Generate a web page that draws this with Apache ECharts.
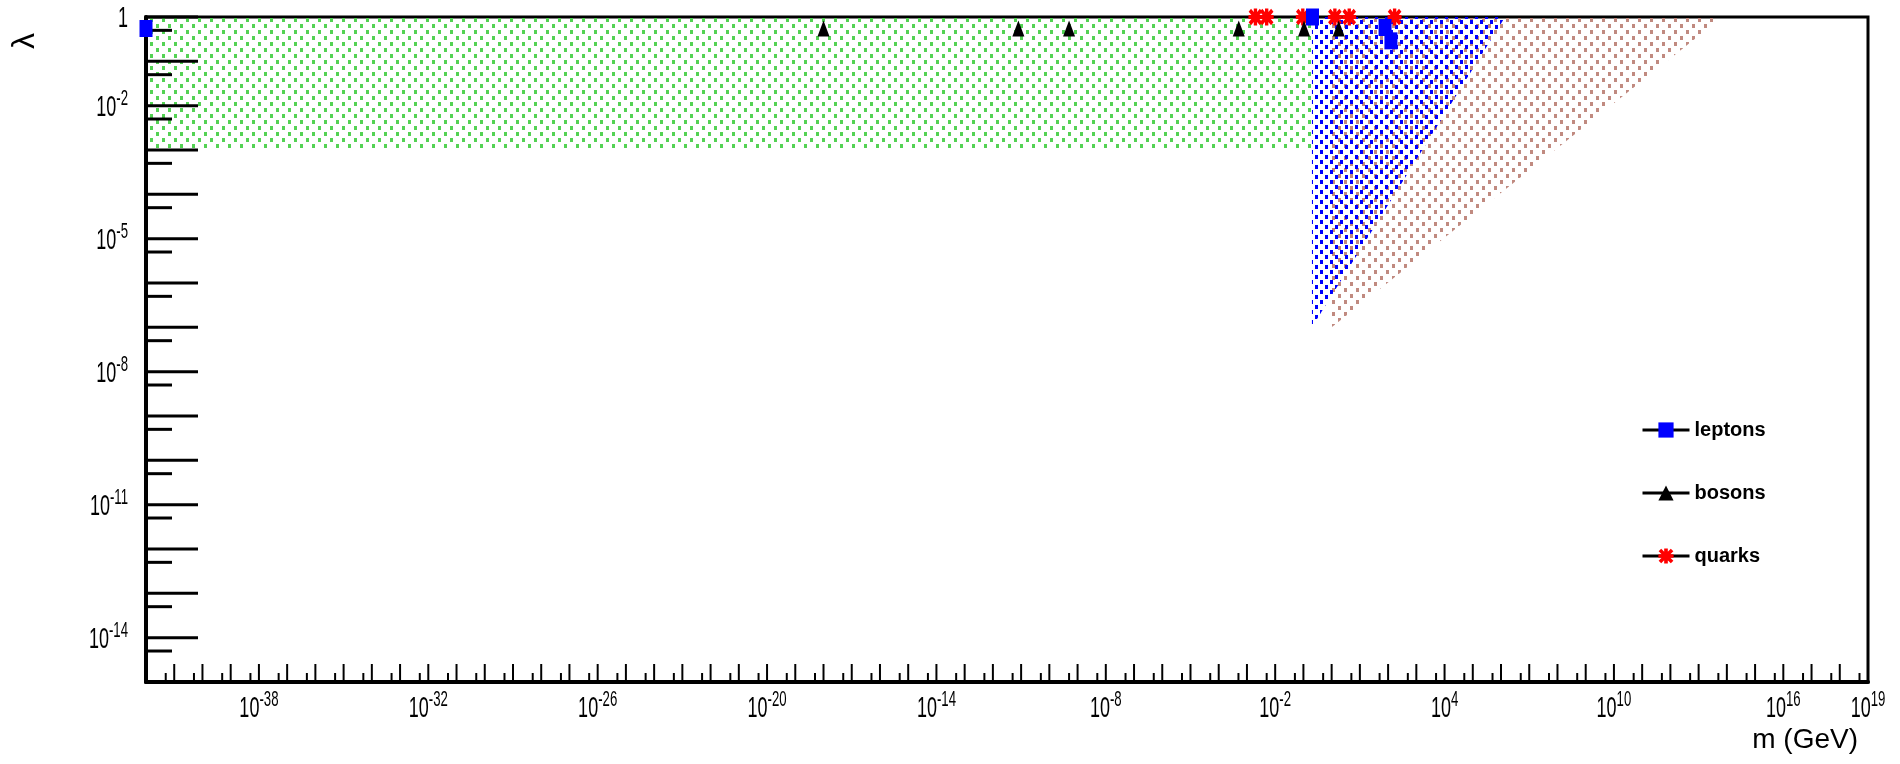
<!DOCTYPE html>
<html>
<head>
<meta charset="utf-8">
<title>lambda vs m</title>
<script src="https://cdn.jsdelivr.net/npm/echarts@6.0.0/dist/echarts.min.js"></script>
<style>
  html, body { margin: 0; padding: 0; background: #fff; }
  #chart { width: 1900px; height: 764px; }
</style>
</head>
<body>
<div id="chart"></div>
<script>
// particle masses (GeV) and couplings
const leptonM = [1e-42, 0.21, 78, 126];
const leptonL = [0.55, 1, 0.58, 0.29];
const bosonM = [1e-18, 8e-12, 5e-10, 5.11e-4, 0.1057, 1.777];
const bosonL = [0.55, 0.55, 0.55, 0.55, 0.55, 0.55];
const quarkM = [2e-3, 5e-3, 0.095, 1.3, 4.2, 170];
const quarkL = [1, 1, 1, 1, 1, 1];

// shaded regions, polygon corners
const greenM = [1e-42, 0.2, 0.2, 1e-42];
const greenL = [1e-3, 1e-3, 1, 1];
const blueM = [0.2, 0.2, 1.4e6];
const blueL = [1e-7, 1, 1];
const brownM = [1, 1, 7e13];
const brownL = [1e-7, 1, 1];

// labelled powers of ten
const xLabelExp = [-38, -32, -26, -20, -14, -8, -2, 4, 10, 16, 19];
const yLabelExp = [0, -2, -5, -8, -11, -14];

const X_MIN = 1e-42, X_MAX = 1e19, Y_MIN = 1e-15, Y_MAX = 1;
const FONT = '"Liberation Sans", Arial, Helvetica, sans-serif';

// tick positions: a long tick every decade, a short one at 5 x 10^k
const xMajor = [], xMinor = [], yMajor = [], yMinor = [];
for (let k = -42; k <= 19; k++) {
  xMajor.push(Math.pow(10, k));
  if (k > -42) xMinor.push(5 * Math.pow(10, k - 1));
}
for (let k = -15; k <= 0; k++) {
  yMajor.push(Math.pow(10, k));
  if (k > -15) yMinor.push(5 * Math.pow(10, k - 1));
}

// dotted fill patterns
function makePattern(w, h, color, dots) {
  const c = document.createElement('canvas');
  c.width = w; c.height = h;
  const ctx = c.getContext('2d');
  ctx.fillStyle = color;
  dots.forEach(d => ctx.fillRect(d[0], d[1], d[2], d[3]));
  return { image: c, repeat: 'repeat' };
}
const greenFill = makePattern(12, 12, 'rgb(84,210,84)', [[0, 0, 3, 4], [6, 6, 3, 4]]);
const brownFill = makePattern(12, 12, 'rgb(192,138,128)', [[0, 0, 3, 4], [6, 6, 3, 4]]);
const blueFill = makePattern(10, 10, 'rgb(0,0,255)', [[0, 0, 3, 4], [5, 5, 3, 4]]);

function areaSeries(ms, ls, fill) {
  return {
    type: 'custom', z: 1, silent: true,
    data: ms.map((m, i) => [m, ls[i]]),
    renderItem(params, api) {
      if (params.dataIndex !== 0) return null;
      const pts = ms.map((m, i) => api.coord([m, ls[i]]));
      return { type: 'polygon', shape: { points: pts }, style: { fill: fill } };
    }
  };
}

function tickSeries(vals, isX, len, width) {
  return {
    type: 'custom', z: 6, silent: true,
    data: vals.map(v => isX ? [v, Y_MIN] : [X_MIN, v]),
    renderItem(params, api) {
      const p = api.coord([api.value(0), api.value(1)]);
      const shape = isX
        ? { x1: p[0], y1: p[1], x2: p[0], y2: p[1] - len }
        : { x1: p[0], y1: p[1], x2: p[0] + len, y2: p[1] };
      return { type: 'line', shape: shape, style: { stroke: '#000', lineWidth: width } };
    }
  };
}

const RICH = {
  b: { fontSize: 30, lineHeight: 40, fontFamily: FONT },
  s: { fontSize: 22, lineHeight: 22, fontFamily: FONT, verticalAlign: 'top' }
};
function powText(e) {
  if (e === 0) return '{b|1}';
  return '{b|10}{s|' + (e < 0 ? '-' : '') + Math.abs(e) + '}';
}

function labelSeries(exps, isX) {
  return {
    type: 'custom', z: 6, silent: true,
    data: exps.map(e => isX ? [Math.pow(10, e), Y_MIN] : [X_MIN, Math.pow(10, e)]),
    renderItem(params, api) {
      const p = api.coord([api.value(0), api.value(1)]);
      const e = exps[params.dataIndex];
      return {
        type: 'text',
        x: isX ? p[0] : p[0] - 18,
        y: isX ? p[1] + 27 : p[1] + 2,
        scaleX: 0.6,
        style: {
          text: powText(e), rich: RICH, fill: '#000',
          align: isX ? 'center' : 'right', verticalAlign: 'middle'
        }
      };
    }
  };
}

function markerSeries(name, ms, ls, symbol, size, color) {
  return {
    name: name, type: 'line', z: 10, clip: false, silent: true,
    data: ms.map((m, i) => [m, ls[i]]),
    symbol: symbol, symbolSize: size,
    lineStyle: { opacity: 0 },
    itemStyle: { color: color, borderWidth: 0 }
  };
}

const ASTERISK = 'path://M38 0L62 0L62 100L38 100Z M0 38L100 38L100 62L0 62Z ' +
  'M1.5 18.5L18.5 1.5L98.5 81.5L81.5 98.5Z M81.5 1.5L98.5 18.5L18.5 98.5L1.5 81.5Z';

const chart = echarts.init(document.getElementById('chart'), null, { renderer: 'canvas' });
chart.setOption({
  animation: false,
  backgroundColor: '#fff',
  grid: { left: 146, right: 32, top: 17, bottom: 82, show: true, borderColor: '#000', borderWidth: 3, backgroundColor: 'transparent' },
  xAxis: {
    type: 'log', logBase: 10, min: X_MIN, max: X_MAX, z: 5,
    axisLine: { show: true, onZero: false, lineStyle: { color: '#000', width: 4 } },
    axisTick: { show: false }, axisLabel: { show: false }, splitLine: { show: false }
  },
  yAxis: {
    type: 'log', logBase: 10, min: Y_MIN, max: Y_MAX, z: 5,
    axisLine: { show: true, onZero: false, lineStyle: { color: '#000', width: 4 } },
    axisTick: { show: false }, axisLabel: { show: false }, splitLine: { show: false }
  },
  legend: {
    data: ['leptons', 'bosons', 'quarks'],
    orient: 'vertical', left: 1641, top: 420, padding: 0,
    itemWidth: 47, itemHeight: 19, itemGap: 43, selectedMode: false,
    lineStyle: { color: '#000', width: 3, opacity: 1 },
    textStyle: { fontFamily: FONT, fontWeight: 'bold', fontSize: 20, color: '#000' }
  },
  graphic: [
    { type: 'text', x: 25, y: 41, rotation: Math.PI / 2,
      style: { text: 'λ', font: '32px ' + FONT, fill: '#000', align: 'center', verticalAlign: 'middle', textAlign: 'center', textVerticalAlign: 'middle' } },
    { type: 'text', x: 1858, y: 740,
      style: { text: 'm (GeV)', font: '28px ' + FONT, fill: '#000', align: 'right', verticalAlign: 'middle', textAlign: 'right', textVerticalAlign: 'middle' } }
  ],
  series: [
    areaSeries(greenM, greenL, greenFill),
    areaSeries(brownM, brownL, brownFill),
    areaSeries(blueM, blueL, blueFill),
    tickSeries(xMajor, true, 18, 2),
    tickSeries(xMinor, true, 9, 2),
    tickSeries(yMajor, false, 52, 3),
    tickSeries(yMinor, false, 26, 3),
    labelSeries(xLabelExp, true),
    labelSeries(yLabelExp, false),
    markerSeries('quarks', quarkM, quarkL, ASTERISK, [14, 17], '#ff0000'),
    markerSeries('leptons', leptonM, leptonL, 'rect', [13, 17], '#0000ff'),
    markerSeries('bosons', bosonM, bosonL, 'triangle', [12, 16], '#000000')
  ]
});
</script>
</body>
</html>
